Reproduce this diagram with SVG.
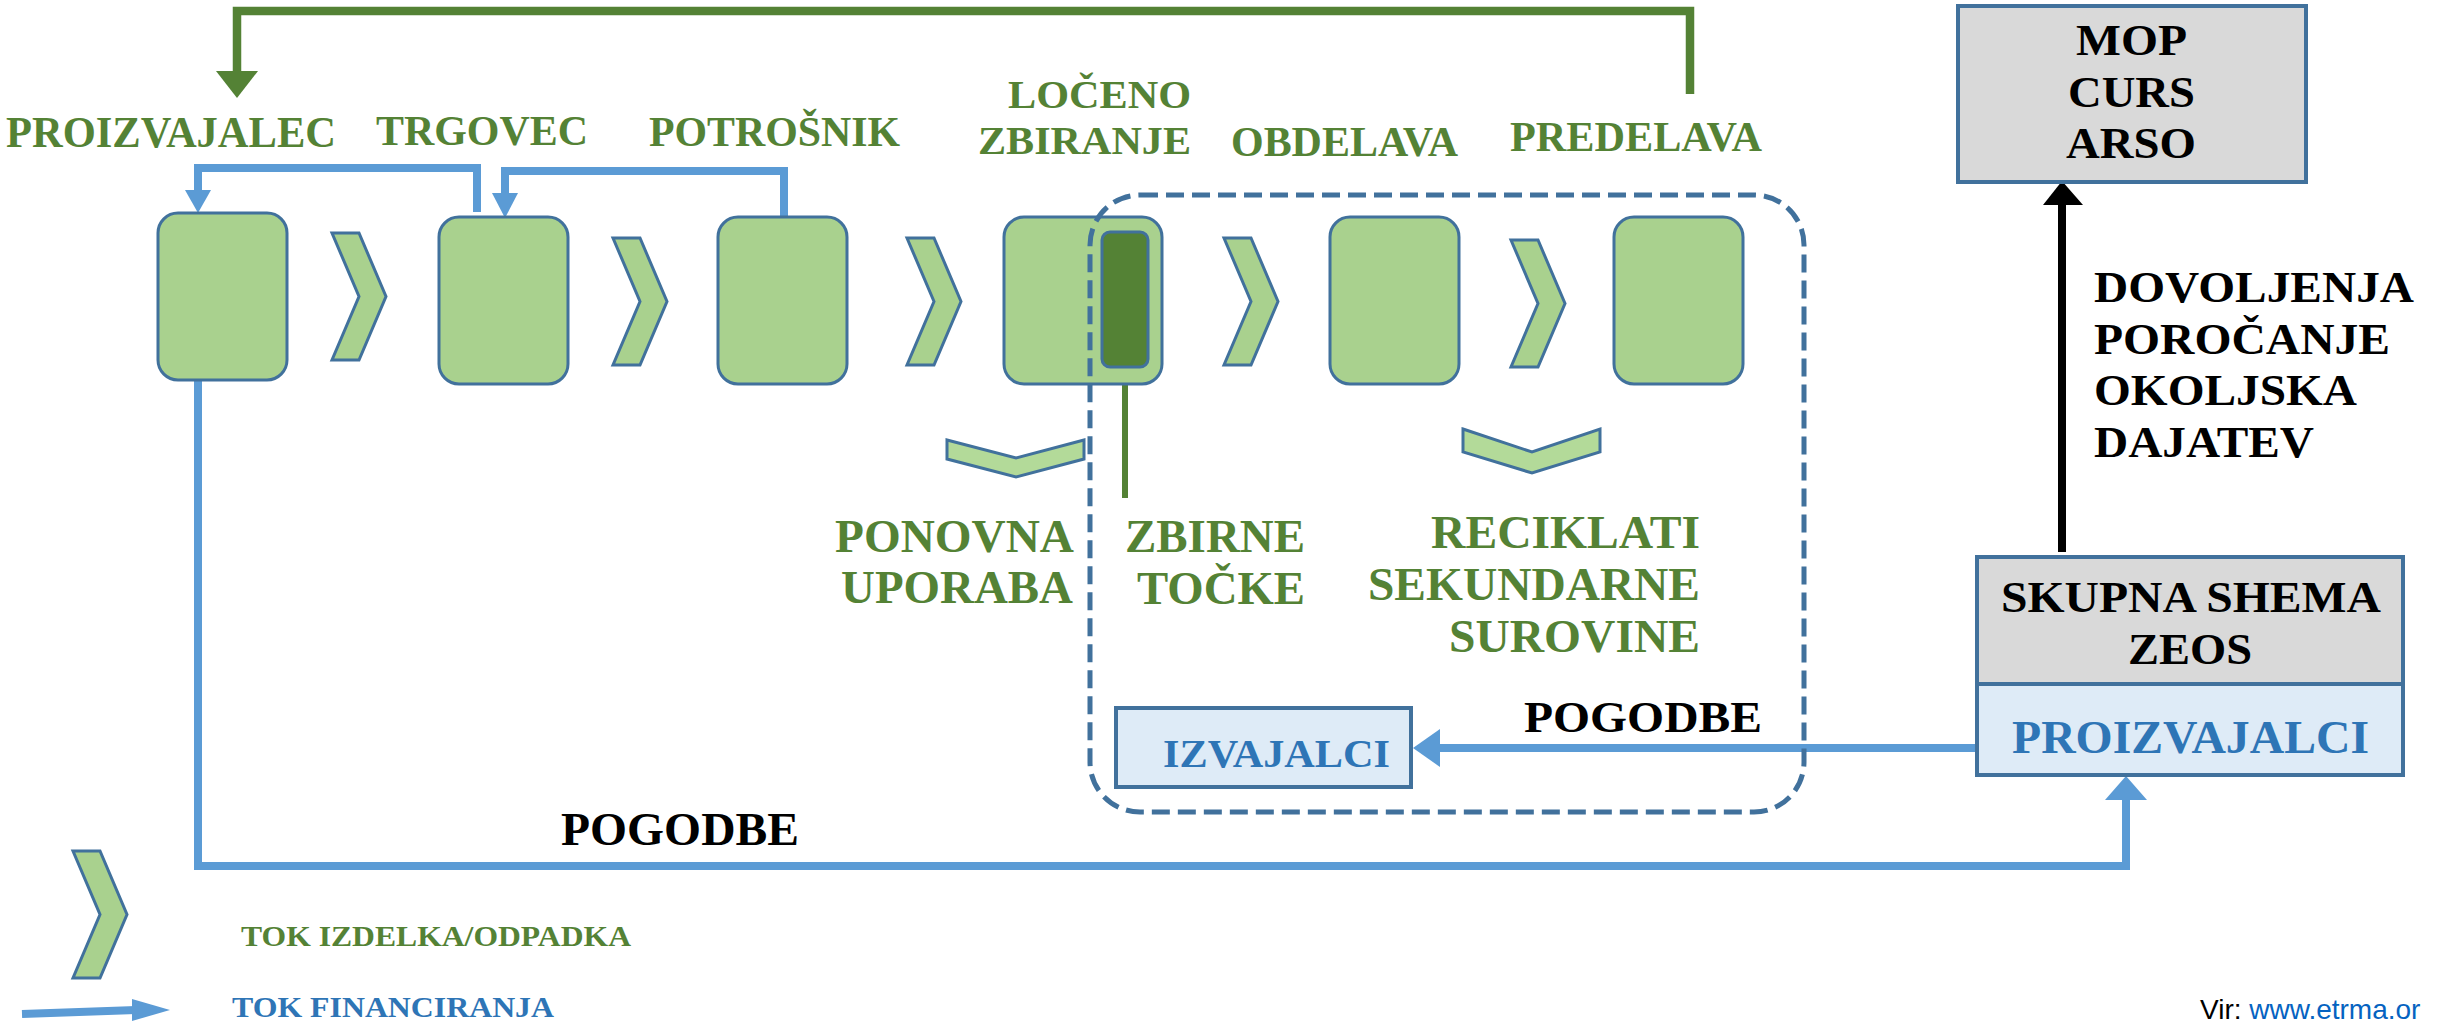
<svg xmlns="http://www.w3.org/2000/svg" xmlns:xlink="http://www.w3.org/1999/xlink" width="2442" height="1022" viewBox="0 0 2442 1022">
<style>
.box{fill:#A9D18E;stroke:#41719C;stroke-width:3}
.chev{fill:#A9D18E;stroke:#41719C;stroke-width:3;stroke-linejoin:miter}
.dchev{fill:#B3DA99;stroke:#41719C;stroke-width:3}
.t{font-family:"Liberation Serif","Times New Roman",serif;font-weight:bold}
.g{fill:#548235}
.k{fill:#000000}
.b{fill:#2E75B6}
.bl{fill:none;stroke:#5B9BD5;stroke-width:8}
.gl{fill:none;stroke:#548235;stroke-width:8.5}
.kl{fill:none;stroke:#000000;stroke-width:8}
.panel{stroke:#41719C;stroke-width:4}
</style>
<defs>
<path id="chevR" d="M0,0 L27,0 L54,63.5 L27,127 L0,127 L27,63.5 Z"/>
</defs>
<rect width="2442" height="1022" fill="#ffffff"/>

<g id="connectors">
<path class="gl" d="M1690,94 L1690,11 L237,11 L237,74"/>
<polygon fill="#548235" points="216,71 258,71 237,98"/>
<path class="bl" d="M477,212 L477,168 L198,168 L198,192"/>
<polygon fill="#5B9BD5" points="185,190 211,190 198,213"/>
<path class="bl" d="M784,217 L784,171 L505,171 L505,195"/>
<polygon fill="#5B9BD5" points="492,193 518,193 505,218"/>
<path class="bl" d="M198,380 L198,866 L2126,866 L2126,798"/>
<polygon fill="#5B9BD5" points="2105,800 2147,800 2126,776"/>
<path class="bl" d="M1977,748 L1436,748"/>
<polygon fill="#5B9BD5" points="1440,729 1440,767 1413,748"/>
<path class="kl" d="M2062,552 L2062,202"/>
<polygon fill="#000000" points="2043,205 2083,205 2062,181"/>
<path fill="none" stroke="#548235" stroke-width="6" d="M1125,367 L1125,498"/>
</g>

<g id="chevrons">
<use xlink:href="#chevR" class="chev" transform="translate(332,233)"/>
<use xlink:href="#chevR" class="chev" transform="translate(613,238)"/>
<use xlink:href="#chevR" class="chev" transform="translate(907,238)"/>
<use xlink:href="#chevR" class="chev" transform="translate(1224,238)"/>
<use xlink:href="#chevR" class="chev" transform="translate(1511,240)"/>
<path class="dchev" d="M947,440 L1016,458 L1084,440 L1084,459 L1016,477 L947,459 Z"/>
<path class="dchev" d="M1463,429 L1532,452 L1600,429 L1600,452 L1532,473 L1463,452 Z"/>
</g>

<g id="proizvajalec">
<rect class="box" x="158" y="213" width="129" height="167" rx="20"/>
<text class="t g" x="6" y="147" font-size="44" textLength="330" lengthAdjust="spacingAndGlyphs">PROIZVAJALEC</text>
</g>
<g id="trgovec">
<rect class="box" x="439" y="217" width="129" height="167" rx="20"/>
<text class="t g" x="376" y="145" font-size="42" textLength="212" lengthAdjust="spacingAndGlyphs">TRGOVEC</text>
</g>
<g id="potrosnik">
<rect class="box" x="718" y="217" width="129" height="167" rx="20"/>
<text class="t g" x="649" y="146" font-size="42" textLength="251" lengthAdjust="spacingAndGlyphs">POTROŠNIK</text>
</g>
<g id="loceno-zbiranje">
<rect class="box" x="1004" y="217" width="158" height="167" rx="20"/>
<rect x="1102" y="232" width="46" height="135" rx="8" fill="#548235" stroke="#41719C" stroke-width="3"/>
<text class="t g" x="1008" y="108" font-size="40" textLength="183" lengthAdjust="spacingAndGlyphs">LOČENO</text>
<text class="t g" x="978" y="154" font-size="40" textLength="213" lengthAdjust="spacingAndGlyphs">ZBIRANJE</text>
</g>
<g id="obdelava">
<rect class="box" x="1330" y="217" width="129" height="167" rx="20"/>
<text class="t g" x="1231" y="156" font-size="42" textLength="227" lengthAdjust="spacingAndGlyphs">OBDELAVA</text>
</g>
<g id="predelava">
<rect class="box" x="1614" y="217" width="129" height="167" rx="20"/>
<text class="t g" x="1510" y="151" font-size="42" textLength="252" lengthAdjust="spacingAndGlyphs">PREDELAVA</text>
</g>

<g id="dashed-region">
<rect x="1090" y="195" width="714" height="617" rx="50" fill="none" stroke="#41719C" stroke-width="5" stroke-dasharray="18 8"/>
</g>

<g id="labels">
<text class="t g" x="835" y="552" font-size="46" textLength="239" lengthAdjust="spacingAndGlyphs">PONOVNA</text>
<text class="t g" x="841" y="603" font-size="46" textLength="232" lengthAdjust="spacingAndGlyphs">UPORABA</text>
<text class="t g" x="1125" y="552" font-size="46" textLength="180" lengthAdjust="spacingAndGlyphs">ZBIRNE</text>
<text class="t g" x="1137" y="604" font-size="46" textLength="168" lengthAdjust="spacingAndGlyphs">TOČKE</text>
<text class="t g" x="1431" y="548" font-size="46" textLength="269" lengthAdjust="spacingAndGlyphs">RECIKLATI</text>
<text class="t g" x="1368" y="600" font-size="46" textLength="332" lengthAdjust="spacingAndGlyphs">SEKUNDARNE</text>
<text class="t g" x="1449" y="652" font-size="46" textLength="251" lengthAdjust="spacingAndGlyphs">SUROVINE</text>
<text class="t k" x="1524" y="732" font-size="45" textLength="238" lengthAdjust="spacingAndGlyphs">POGODBE</text>
<text class="t k" x="561" y="845" font-size="46" textLength="238" lengthAdjust="spacingAndGlyphs">POGODBE</text>
<text class="t k" x="2094" y="302" font-size="45" textLength="320" lengthAdjust="spacingAndGlyphs">DOVOLJENJA</text>
<text class="t k" x="2094" y="354" font-size="45" textLength="296" lengthAdjust="spacingAndGlyphs">POROČANJE</text>
<text class="t k" x="2094" y="405" font-size="45" textLength="263" lengthAdjust="spacingAndGlyphs">OKOLJSKA</text>
<text class="t k" x="2094" y="457" font-size="45" textLength="220" lengthAdjust="spacingAndGlyphs">DAJATEV</text>
</g>

<g id="izvajalci">
<rect x="1116" y="708" width="295" height="79" fill="#DEEBF7" class="panel"/>
<text class="t b" x="1163" y="767" font-size="40" textLength="227" lengthAdjust="spacingAndGlyphs">IZVAJALCI</text>
</g>

<g id="mop-curs-arso">
<rect x="1958" y="6" width="348" height="176" fill="#D9D9D9" class="panel"/>
<text class="t k" x="2076" y="55" font-size="45" textLength="111" lengthAdjust="spacingAndGlyphs">MOP</text>
<text class="t k" x="2068" y="107" font-size="45" textLength="127" lengthAdjust="spacingAndGlyphs">CURS</text>
<text class="t k" x="2066" y="158" font-size="45" textLength="130" lengthAdjust="spacingAndGlyphs">ARSO</text>
</g>

<g id="skupna-shema">
<rect x="1977" y="557" width="426" height="127" fill="#D9D9D9" class="panel"/>
<rect x="1977" y="684" width="426" height="91" fill="#DEEBF7" class="panel"/>
<text class="t k" x="2001" y="612" font-size="45" textLength="380" lengthAdjust="spacingAndGlyphs">SKUPNA SHEMA</text>
<text class="t k" x="2128" y="664" font-size="45" textLength="124" lengthAdjust="spacingAndGlyphs">ZEOS</text>
<text class="t b" x="2012" y="753" font-size="47" textLength="357" lengthAdjust="spacingAndGlyphs">PROIZVAJALCI</text>
</g>

<g id="legend">
<use xlink:href="#chevR" class="chev" transform="translate(73,851)"/>
<text class="t g" x="241" y="946" font-size="29" textLength="390" lengthAdjust="spacingAndGlyphs">TOK IZDELKA/ODPADKA</text>
<path class="bl" d="M22,1014 L136,1010"/>
<polygon fill="#5B9BD5" points="132,999 132,1021 170,1010"/>
<text class="t b" x="232" y="1017" font-size="30" textLength="322" lengthAdjust="spacingAndGlyphs">TOK FINANCIRANJA</text>
</g>

<g id="source">
<text x="2200" y="1019" font-family="'Liberation Sans', Arial, sans-serif" font-size="28" fill="#000000">Vir: <tspan fill="#0563C1">www.etrma.or</tspan></text>
</g>
</svg>
